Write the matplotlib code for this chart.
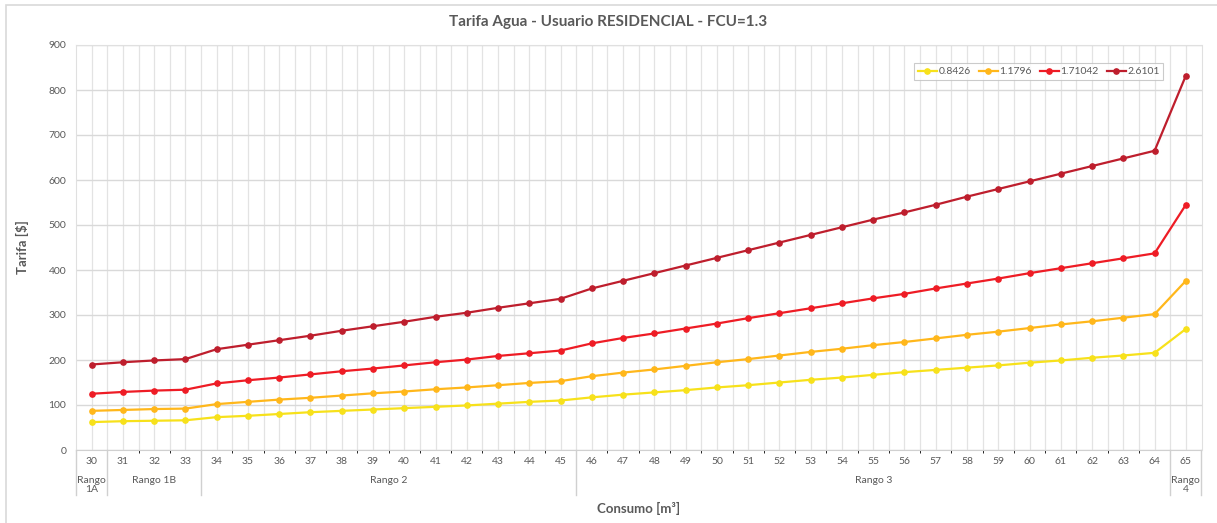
import matplotlib
matplotlib.use("Agg")
import matplotlib.pyplot as plt
import matplotlib.transforms as mtransforms
from matplotlib.patches import Rectangle

plt.rcParams['font.family'] = ['Lato', 'DejaVu Sans']

consumo = list(range(30, 66))
fcu_labels = ["0.8426", "1.1796", "1.71042", "2.6101"]
colores = ["#F7E11B", "#FFB71B", "#EE1C25", "#BE1E2D"]

tarifa_0842 = [62, 64, 65, 66, 73, 76, 80, 84, 87, 90, 93, 96, 99, 103, 107, 110,
               117, 123, 128, 133, 139, 144, 150, 156, 161, 167, 173, 178, 183, 188,
               194, 199, 205, 210, 216, 269]
tarifa_1179 = [87, 89, 91, 92, 102, 107, 112, 116, 121, 126, 130, 135, 139, 144, 149, 153,
               164, 172, 179, 187, 195, 202, 210, 218, 225, 233, 240, 248, 256, 263,
               271, 279, 286, 294, 302, 376]
tarifa_1710 = [125, 129, 132, 134, 148, 155, 161, 168, 175, 181, 188, 195, 201, 209, 215, 221,
               237, 249, 259, 270, 281, 293, 304, 315, 326, 337, 347, 359, 370, 381,
               393, 404, 415, 426, 437, 545]
tarifa_2610 = [190, 195, 199, 202, 224, 234, 244, 254, 265, 275, 285, 296, 305, 316, 326, 336,
               359, 376, 393, 410, 427, 444, 461, 478, 495, 512, 528, 545, 563, 580,
               597, 614, 631, 648, 665, 832]
series = [tarifa_0842, tarifa_1179, tarifa_1710, tarifa_2610]

# rangos de consumo: (etiqueta, primer indice, ultimo indice)
rangos = [("Rango\n1A", 0, 0), ("Rango 1B", 1, 3), ("Rango 2", 4, 15),
          ("Rango 3", 16, 34), ("Rango\n4", 35, 35)]

gris = "#595959"
fig = plt.figure(figsize=(12.17, 5.23), dpi=100)
fig.patches.append(Rectangle((6 / 1217, -0.1), 1.2, 1.1 - 5 / 523, transform=fig.transFigure,
                             fill=False, edgecolor="#D9D9D9", linewidth=1.2))
ax = fig.add_axes([76 / 1217, 1 - 450 / 523, (1201.5 - 76) / 1217, (450 - 45) / 523])

x = list(range(len(consumo)))
for vals, lab, col in zip(series, fcu_labels, colores):
    ax.plot(x, vals, color=col, linewidth=1.6, marker="o", markersize=3.8, label=lab, zorder=3)

ax.set_xlim(-0.5, len(consumo) - 0.5)
ax.set_ylim(0, 900)
ax.set_yticks(range(0, 901, 100))
ax.set_xticks(x)
ax.set_xticklabels([str(c) for c in consumo])
ax.set_xticks([i + 0.5 for i in x[:-1]], minor=True)
ax.tick_params(axis="both", length=0, labelsize=7.5, labelcolor=gris)
ax.tick_params(axis="x", pad=5)
ax.tick_params(axis="y", pad=7)

ax.grid(True, axis="y", color="#D9D9D9", linewidth=1.0)
ax.grid(True, axis="x", which="both", color="#E3E3E3", linewidth=0.9)
ax.set_axisbelow(True)
for s in ["top", "right", "left"]:
    ax.spines[s].set_color("#E0E0E0")
ax.spines["bottom"].set_color("#D0D0D0")

# etiquetas de rango bajo el eje
trans = mtransforms.blended_transform_factory(ax.transData, ax.transAxes)
for nombre, i0, i1 in rangos:
    ax.text((i0 + i1) / 2, -0.065, nombre, transform=trans, ha="center", va="top",
            fontsize=7.5, color=gris, linespacing=1.0)
bordes = [-0.5] + [r[2] + 0.5 for r in rangos]
for b in bordes:
    ax.plot([b, b], [0, -0.111], transform=trans, color="#D0D0D0", linewidth=1.0, clip_on=False)

fig.text(0.5, 1 - 22 / 523, "Tarifa Agua - Usuario RESIDENCIAL - FCU=1.3", fontsize=11,
         fontweight="bold", color=gris, ha="center", va="center")
ax.set_xlabel("Consumo [m³]", fontsize=9.5, fontweight="bold", color=gris, labelpad=26)
ax.set_ylabel("Tarifa [$]", fontsize=9.5, fontweight="bold", color=gris, labelpad=14)

leg = ax.legend(loc="upper right", ncol=4, fontsize=7.5, frameon=True, fancybox=False,
                bbox_to_anchor=(0.966, 0.955), handlelength=1.8, columnspacing=0.8,
                handletextpad=0.15, borderpad=0.35, borderaxespad=0)
leg.get_frame().set_edgecolor("#BFBFBF")
leg.get_frame().set_linewidth(0.8)
for t in leg.get_texts():
    t.set_color(gris)

fig.savefig("out.png", dpi=100)
